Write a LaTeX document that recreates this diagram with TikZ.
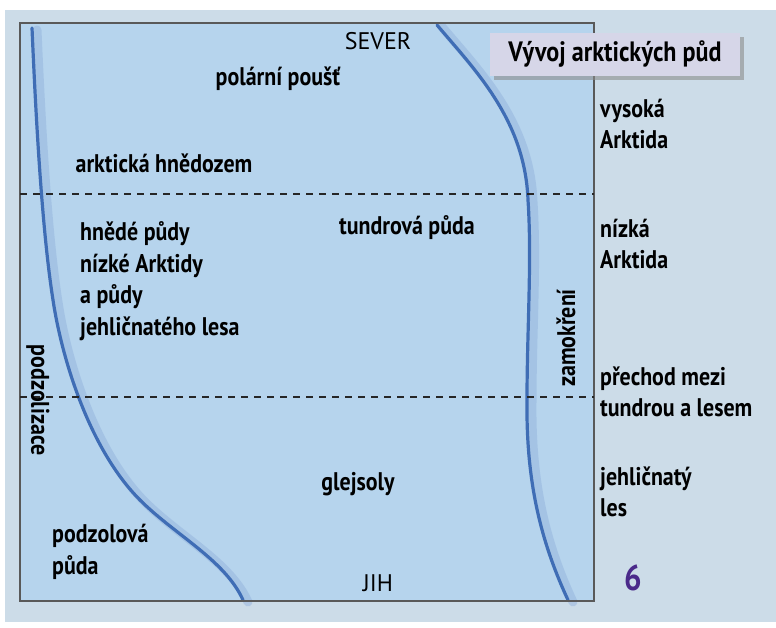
\documentclass[tikz,border=0pt]{standalone}
\usepackage{fontspec}
\setmainfont{PT Sans}[FakeStretch=0.86]
\newfontfamily\plainsans{PT Sans}
\usetikzlibrary{shadows}
\definecolor{bgout}{HTML}{CCDCE8}
\definecolor{bgin}{HTML}{B6D4ED}
\definecolor{curveblue}{HTML}{3F6DB5}
\definecolor{curveshadow}{HTML}{8FAFDB}
\definecolor{titlefill}{HTML}{D6D6E8}
\definecolor{numpurple}{HTML}{4A2A8A}
\tikzset{
  lbl/.style={font=\bfseries\fontsize{25.5}{31.5}\selectfont, text=black, inner sep=0pt},
  lblL/.style={lbl, anchor=west, align=left},
  compass/.style={font=\plainsans\fontsize{24}{26}\selectfont, inner sep=0pt},
  bluecurve/.style={draw=curveblue, line width=3.2pt, line cap=round},
  curveshade/.style={draw=curveshadow, line width=9pt, opacity=0.45, line cap=round},
  divider/.style={draw=black!85, line width=1.8pt, dash pattern=on 7pt off 6pt}
}
\begin{document}
\begin{tikzpicture}[x=1pt,y=-1pt]
\useasboundingbox (0,0) rectangle (776,627);
% outer background
\fill[bgout] (5,10) rectangle (776,622);
% inner box
\fill[bgin] (20,23) rectangle (594,601);
% curve shadows
\begin{scope}[xshift=5pt, yshift=-2pt]
\draw[curveshade] (32,28) .. controls (36,120) and (42,230) .. (53,300)
  .. controls (62,360) and (90,450) .. (140,500)
  .. controls (175,535) and (225,560) .. (243,600);
\draw[curveshade] (437,25) .. controls (475,70) and (525,120) .. (528,200)
  .. controls (532,260) and (527,330) .. (527,400)
  .. controls (526,480) and (540,540) .. (568,600);
\end{scope}
% blue curves
\coordinate (lt) at (32,28);
\coordinate (lb) at (243,600);
\coordinate (rt) at (437,25);
\coordinate (rb) at (568,600);
\draw[bluecurve] (lt) .. controls (36,120) and (42,230) .. (53,300)
  .. controls (62,360) and (90,450) .. (140,500)
  .. controls (175,535) and (225,560) .. (lb);
\draw[bluecurve] (rt) .. controls (475,70) and (525,120) .. (528,200)
  .. controls (532,260) and (527,330) .. (527,400)
  .. controls (526,480) and (540,540) .. (rb);
% inner border
\draw[draw=black!65, line width=1.6pt] (20,23) rectangle (594,601);
% dividers
\coordinate (d1a) at (20,194); \coordinate (d1b) at (594,194);
\coordinate (d2a) at (20,397); \coordinate (d2b) at (594,397);
\draw[divider] (d1a) -- (d1b);
\draw[divider] (d2a) -- (d2b);
% title box
\node[fill=titlefill, minimum width=250pt, minimum height=43pt, inner sep=0pt,
  drop shadow={shadow xshift=4pt, shadow yshift=-4pt, fill=black!45, opacity=0.6},
  font=\bfseries\fontsize{28}{30}\selectfont] (title) at (615,54) {Vývoj arktických půd};
% compass labels
\node[compass] (sever) at (378,41) {SEVER};
\node[compass] (jih) at (378,583) {JIH};
% inner labels
\node[lbl] (polar) at (278,79) {polární poušť};
\node[lbl] (hnedozem) at (164,163) {arktická hnědozem};
\node[lblL] (hnede) at (80,281) {hnědé půdy\\nízké Arktidy\\a půdy\\jehličnatého lesa};
\node[lbl] (tundra) at (407,228) {tundrová půda};
\node[lbl] (glej) at (358,484) {glejsoly};
\node[lblL] (podzol) at (52,552) {podzolová\\půda};
\node[lbl, rotate=90] (zamok) at (566,338) {zamokření};
\node[lbl, rotate=-90] (podzolizace) at (38,400) {podzolizace};
% right column
\node[lblL] (vysoka) at (600,124) {vysoká\\Arktida};
\node[lblL] (nizka) at (600,244) {nízká\\Arktida};
\node[lblL] (prechod) at (600,392) {přechod mezi\\tundrou a lesem};
\node[lblL] (jehl) at (600,492) {jehličnatý\\les};
\node[font=\bfseries\fontsize{36}{38}\selectfont, text=numpurple, inner sep=0pt] (six) at (633,578) {6};
\end{tikzpicture}
\end{document}
